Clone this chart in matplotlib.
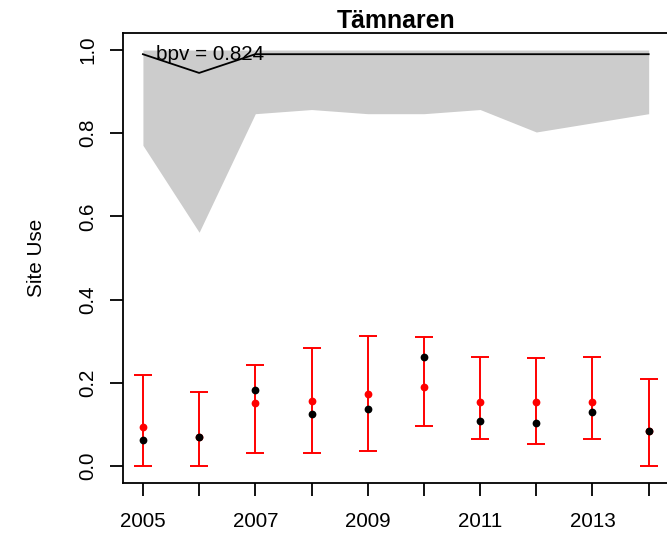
import matplotlib
matplotlib.use('Agg')
import matplotlib.pyplot as plt
import numpy as np

# Jahre und Werte fuer Tämnaren
years = [2005, 2006, 2007, 2008, 2009, 2010, 2011, 2012, 2013, 2014]
site_use_obs = [0.063, 0.071, 0.182, 0.125, 0.138, 0.263, 0.109, 0.103, 0.131, 0.084]
site_use_est = [0.095, 0.071, 0.152, 0.157, 0.173, 0.191, 0.153, 0.154, 0.153, 0.084]
est_lower = [0.0, 0.0, 0.031, 0.032, 0.035, 0.096, 0.066, 0.052, 0.066, 0.0]
est_upper = [0.219, 0.179, 0.243, 0.283, 0.312, 0.310, 0.262, 0.259, 0.262, 0.209]

# Bayes p-value Band
bpv_lower = [0.771, 0.562, 0.847, 0.857, 0.847, 0.847, 0.857, 0.803, 0.825, 0.847]
bpv_upper = [1.0, 1.0, 1.0, 1.0, 1.0, 1.0, 1.0, 1.0, 1.0, 1.0]
bpv_mean = [0.990, 0.945, 0.990, 0.990, 0.990, 0.990, 0.990, 0.990, 0.990, 0.990]
bpv_text = 'bpv = 0.824'

xtick_labels = ['2005', '', '2007', '', '2009', '', '2011', '', '2013', '']
ytick_values = [0.0, 0.2, 0.4, 0.6, 0.8, 1.0]

plt.rcParams['font.family'] = ['Liberation Sans', 'DejaVu Sans']

W, H = 667, 534
fig = plt.figure(figsize=(W / 100, H / 100), dpi=100)
ax = fig.add_axes([122.7 / W, 1 - 482.7 / H, (668.9 - 122.7) / W, (482.7 - 33.4) / H])

ax.fill_between(years, bpv_lower, bpv_upper, color='#CCCCCC', linewidth=0, zorder=1)
ax.plot(years, bpv_mean, color='black', linewidth=1.3, zorder=2)
ax.text(2005.226, 0.977, bpv_text, fontsize=14.9, ha='left', va='baseline', zorder=3)

est = np.array(site_use_est)
yerr = [est - np.array(est_lower), np.array(est_upper) - est]
ax.errorbar(years, est, yerr=yerr, fmt='none', ecolor='red', elinewidth=1.4,
            capsize=6.8, capthick=1.4, zorder=3)
ax.plot(years, site_use_est, 'o', color='red', markersize=5.6, markeredgewidth=0, zorder=4)
ax.plot(years, site_use_obs, 'o', color='black', markersize=5.6, markeredgewidth=0, zorder=5)

ax.set_xlim(2004.64, 2014.36)
ax.set_ylim(-0.04, 1.04)
ax.set_xticks(years)
ax.set_xticklabels(xtick_labels)
ax.set_yticks(ytick_values)
ax.set_yticklabels(['{:.1f}'.format(v) for v in ytick_values], rotation=90, va='center')

ax.tick_params(axis='both', direction='out', length=9.4, width=1.3, labelsize=14.9, color='black')
ax.tick_params(axis='x', pad=12)
ax.tick_params(axis='y', pad=9)
for sp in ax.spines.values():
    sp.set_linewidth(1.3)

ax.set_title('Tämnaren', fontsize=17.9, fontweight='bold', pad=1)
fig.text(36 / W, 1 - 258 / H, 'Site Use', rotation=90, ha='center', va='center', fontsize=14.9)

fig.savefig('out.png', dpi=100)
